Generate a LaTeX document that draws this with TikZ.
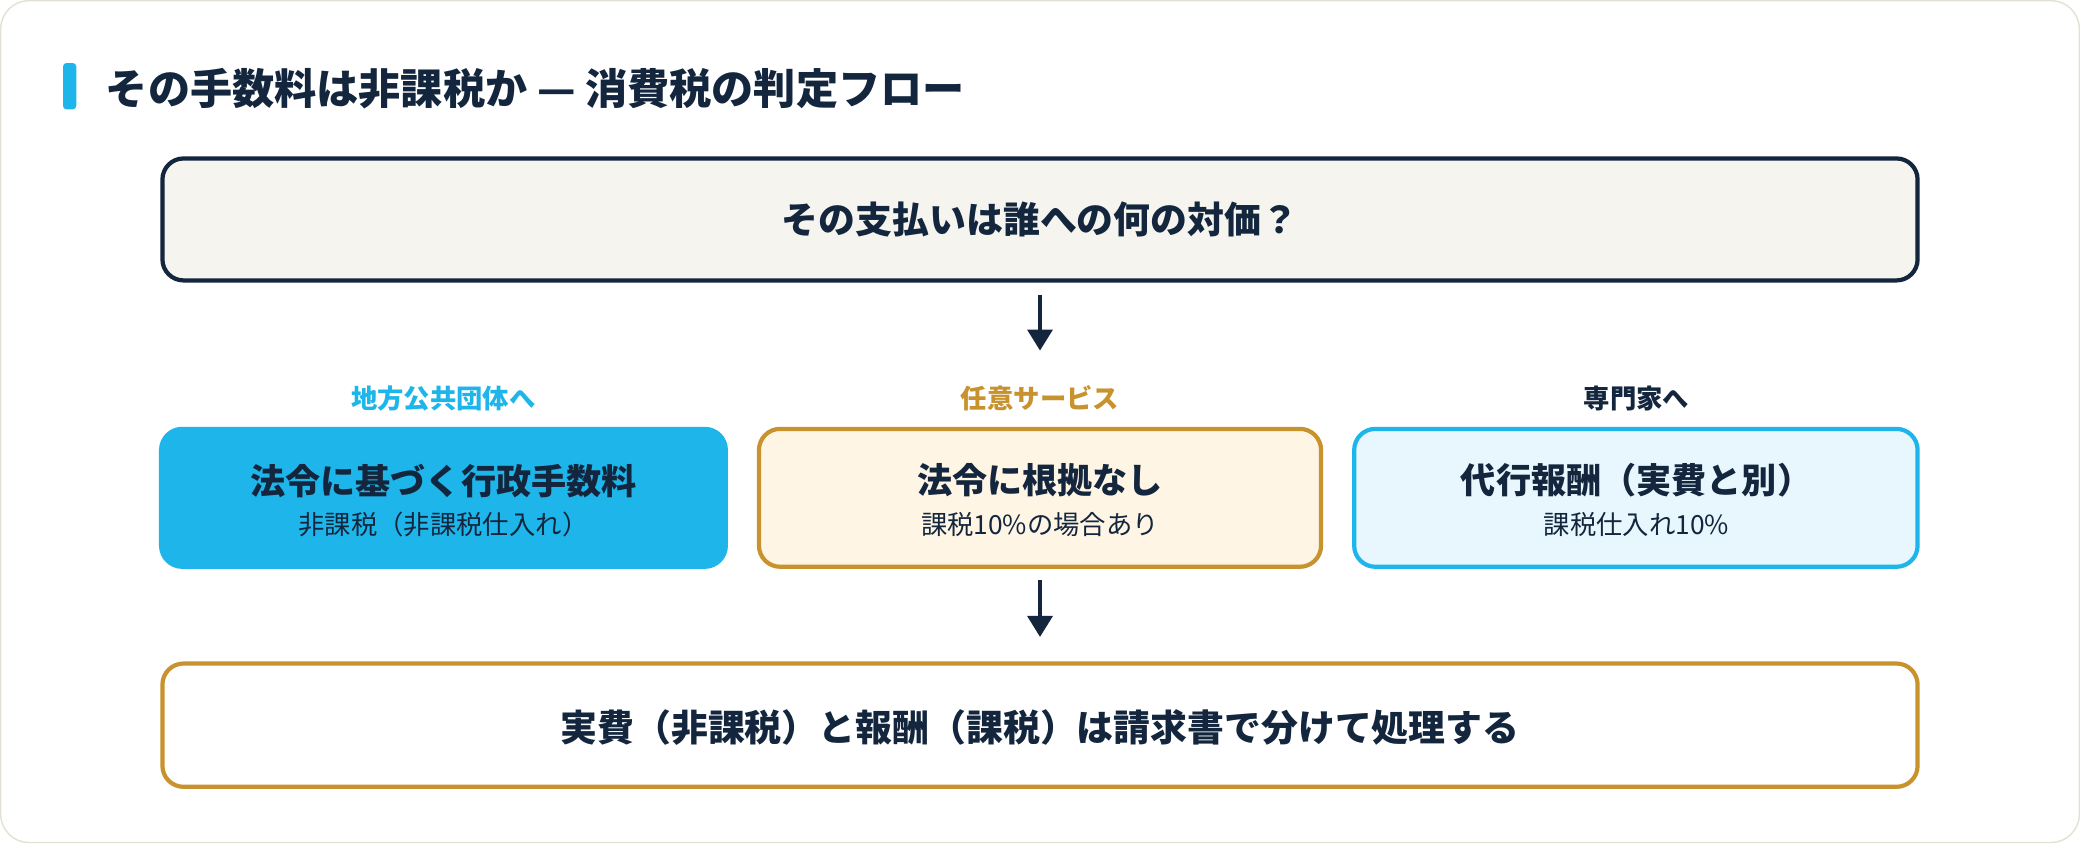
\documentclass[tikz,border=0pt]{standalone}
\usepackage{fontspec}
\setmainfont{Noto Sans CJK JP}
\usetikzlibrary{arrows.meta}
\definecolor{navy}{HTML}{13263D}
\definecolor{cyanb}{HTML}{1EB6EA}
\definecolor{gold}{HTML}{C8932E}
\definecolor{cream}{HTML}{F5F4EF}
\definecolor{peach}{HTML}{FEF5E5}
\definecolor{ice}{HTML}{E8F7FD}
\definecolor{frame}{HTML}{E4E1D2}
\begin{document}
\begin{tikzpicture}[x=0.13265mm,y=-0.13265mm,
  box/.style={draw,line width=1.2pt,rounded corners=6pt},
  flow/.style={-{Triangle[length=6pt,width=7pt]},navy,line width=1.3pt}]

% frame
\draw[frame,fill=white,rounded corners=8pt] (0,0) rectangle (1568,635);
\fill[cyanb,rounded corners=1pt] (47,47) rectangle (57,82);
\node (title) [anchor=west,navy,font=\fontsize{12}{14}\selectfont\bfseries] at (70,66) {その手数料は非課税か — 消費税の判定フロー};

% question
\draw[box,navy,fill=cream] (122,119) rectangle (1446,211);
\node (q) [navy,font=\fontsize{10.5}{12}\selectfont\bfseries] at (784,165) {その支払いは誰への何の対価？};
\coordinate (qb) at (784,222);
\coordinate (mt) at (784,264);
\draw[flow] (qb) -- (mt);

% three cases
\node (l1) [cyanb,font=\fontsize{7.5}{9}\selectfont\bfseries] at (334,300) {地方公共団体へ};
\node (l2) [gold,font=\fontsize{7.5}{9}\selectfont\bfseries] at (784,300) {任意サービス};
\node (l3) [navy,font=\fontsize{7.5}{9}\selectfont\bfseries] at (1234,300) {専門家へ};

\draw[box,cyanb,fill=cyanb] (121,323) rectangle (547,427);
\draw[box,gold,fill=peach] (572,323) rectangle (996,427);
\draw[box,cyanb,fill=ice] (1021,323) rectangle (1446,427);

\foreach \x/\a/\b [count=\i] in {334/法令に基づく行政手数料/非課税（非課税仕入れ）,
                                 784/法令に根拠なし/課税10\%の場合あり,
                                 1234/代行報酬（実費と別）/課税仕入れ10\%} {
  \node (c\i) [navy,font=\fontsize{10}{12}\selectfont\bfseries] at (\x,362) {\a};
  \node (d\i) [navy,font=\fontsize{7.5}{9}\selectfont] at (\x,395) {\b};
}

\coordinate (mb) at (784,437);
\coordinate (bt) at (784,480);
\draw[flow] (mb) -- (bt);

% result
\draw[box,gold,fill=white] (122,500) rectangle (1446,593);
\node (r) [navy,font=\fontsize{10.5}{12}\selectfont\bfseries] at (784,548) {実費（非課税）と報酬（課税）は請求書で分けて処理する};
\end{tikzpicture}
\end{document}
